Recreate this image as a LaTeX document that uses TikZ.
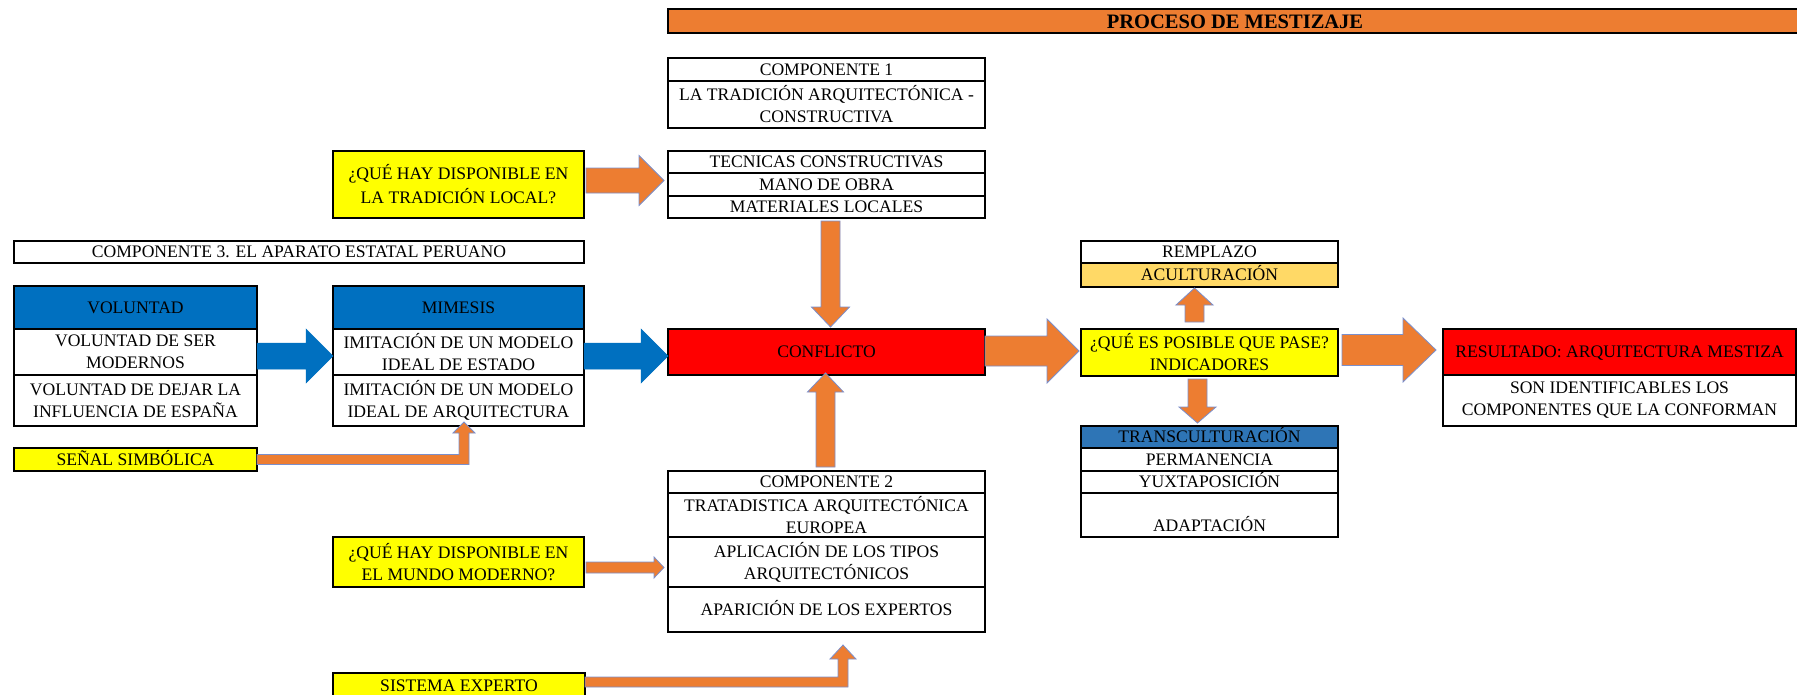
\documentclass[tikz,border=0pt]{standalone}
\usepackage{fontspec}
\setmainfont{Liberation Serif}
\usetikzlibrary{calc}
\definecolor{orangeA}{HTML}{ED7D31}
\definecolor{yellowA}{HTML}{FFFF00}
\definecolor{redA}{HTML}{FF0000}
\definecolor{blueH}{HTML}{0070C0}
\definecolor{transA}{HTML}{2E75B6}
\definecolor{acuA}{HTML}{FFD966}
\definecolor{outlineA}{HTML}{7A8FCC}
\newcommand{\cellfont}{\fontsize{17.6}{22}\selectfont}
\newcommand{\titlefont}{\fontsize{20.5}{24}\selectfont\bfseries}
\tikzset{
  cellbox/.style={draw=black, line width=1.1pt, inner sep=0pt, outer sep=0pt,
    align=center, font=\cellfont},
  oneline/.style={text height=11.6pt, text depth=0pt},
  multi/.style={},
  orangeArrow/.style={fill=orangeA, draw=outlineA, line width=0.8pt, line join=miter},
  blueArrow/.style={fill=blueH, draw=blueH, line width=0.5pt}
}
% cell: [extra style], name, x1, y1, x2, y2, fill, text
\newcommand{\cell}[8][oneline]{\node[cellbox, #1, fill=#7, minimum width={#5pt-#3pt}, minimum height={#6pt-#4pt}] (#2) at ({(#3+#5)/2},{(#4+#6)/2}) {#8};}
% horizontal block arrow: style, from, tip, bodyhalf, headhalf, headlen
\newcommand{\harrow}[6]{\path[#1] let \p1=(#2), \p2=(#3) in
  ({\x1},{\y2+#4}) -- ({\x2-#6},{\y2+#4}) -- ({\x2-#6},{\y2+#5}) -- (\x2,\y2) -- ({\x2-#6},{\y2-#5}) -- ({\x2-#6},{\y2-#4}) -- ({\x1},{\y2-#4}) -- cycle;}
% vertical block arrow: style, from, tip, bodyhalf, headhalf, signed headlen
\newcommand{\varrow}[6]{\path[#1] let \p1=(#2), \p2=(#3) in
  ({\x2-#4},{\y1}) -- ({\x2-#4},{\y2+(#6)}) -- ({\x2-#5},{\y2+(#6)}) -- (\x2,\y2) -- ({\x2+#5},{\y2+(#6)}) -- ({\x2+#4},{\y2+(#6)}) -- ({\x2+#4},{\y1}) -- cycle;}
% elbow arrow: right then up
\newcommand{\elbow}[6]{\path[#1] let \p1=(#2), \p2=(#3) in
  ({\x1},{\y1+#4}) -- ({\x2-#4},{\y1+#4}) -- ({\x2-#4},{\y2-#6}) -- ({\x2-#5},{\y2-#6}) -- (\x2,\y2) -- ({\x2+#5},{\y2-#6}) -- ({\x2+#4},{\y2-#6}) -- ({\x2+#4},{\y1-#4}) -- ({\x1},{\y1-#4}) -- cycle;}
\begin{document}
\begin{tikzpicture}[x=1pt,y=-1pt]
\useasboundingbox (0,0) rectangle (1797,694);
\fill[white] (0,0) rectangle (1797,694);
\clip (0,0) rectangle (1797,694);
% title
\node[cellbox, line width=1.5pt, fill=orangeA, minimum width=1134pt, minimum height=24pt, font=\titlefont, text height=14pt, text depth=0pt] (title) at (1235,21) {PROCESO DE MESTIZAJE};
% componente 1
\cell{c1a}{668}{58}{985}{81}{white}{COMPONENTE 1}
\cell[multi]{c1b}{668}{81}{985}{128}{white}{LA TRADICIÓN ARQUITECTÓNICA -\\CONSTRUCTIVA}
\cell{tec1}{668}{151}{985}{173}{white}{TECNICAS CONSTRUCTIVAS}
\cell{tec2}{668}{173}{985}{196}{white}{MANO DE OBRA}
\cell{tec3}{668}{196}{985}{218}{white}{MATERIALES LOCALES}
\cell[multi]{yl1}{333}{151}{584}{218}{yellowA}{¿QUÉ HAY DISPONIBLE EN\\[2pt]LA TRADICIÓN LOCAL?}
% componente 3
\cell{c3}{14}{241}{584}{263}{white}{COMPONENTE 3. EL APARATO ESTATAL PERUANO}
\cell{vol0}{14}{286}{257}{329}{blueH}{VOLUNTAD}
\cell[multi]{vol1}{14}{329}{257}{375}{white}{VOLUNTAD DE SER\\MODERNOS}
\cell[multi]{vol2}{14}{375}{257}{426}{white}{VOLUNTAD DE DEJAR LA\\INFLUENCIA DE ESPAÑA}
\cell{mim0}{333}{286}{584}{329}{blueH}{MIMESIS}
\cell[multi]{mim1}{333}{329}{584}{375}{white}{IMITACIÓN DE UN MODELO\\IDEAL DE ESTADO}
\cell[multi]{mim2}{333}{375}{584}{426}{white}{IMITACIÓN DE UN MODELO\\IDEAL DE ARQUITECTURA}
\cell{sen}{14}{448}{257}{471}{yellowA}{SEÑAL SIMBÓLICA}
% conflicto
\cell{conf}{668}{329}{985}{375}{redA}{CONFLICTO}
% componente 2
\cell{c2a}{668}{471}{985}{493}{white}{COMPONENTE 2}
\cell[multi]{c2b}{668}{493}{985}{537}{white}{TRATADISTICA ARQUITECTÓNICA\\EUROPEA}
\cell[multi]{c2c}{668}{537}{985}{587}{white}{APLICACIÓN DE LOS TIPOS\\ARQUITECTÓNICOS}
\cell{c2d}{668}{587}{985}{632}{white}{APARICIÓN DE LOS EXPERTOS}
\cell[multi]{yl2}{333}{537}{584}{587}{yellowA}{¿QUÉ HAY DISPONIBLE EN\\EL MUNDO MODERNO?}
\cell{sis}{333}{673}{585}{698}{yellowA}{SISTEMA EXPERTO}
% indicadores
\cell{rem}{1081}{241}{1338}{263}{white}{REMPLAZO}
\cell{acu}{1081}{263}{1338}{287}{acuA}{ACULTURACIÓN}
\cell[multi]{ind}{1081}{329}{1338}{376}{yellowA}{¿QUÉ ES POSIBLE QUE PASE?\\INDICADORES}
\cell{tr0}{1081}{426}{1338}{448}{transA}{TRANSCULTURACIÓN}
\cell{tr1}{1081}{448}{1338}{471}{white}{PERMANENCIA}
\cell{tr2}{1081}{471}{1338}{493}{white}{YUXTAPOSICIÓN}
\cell[multi]{tr3}{1081}{493}{1338}{537}{white}{\mbox{}\\[12pt]ADAPTACIÓN}
% resultado
\cell{res0}{1443}{329}{1796}{375}{redA}{RESULTADO: ARQUITECTURA MESTIZA}
\cell[multi]{res1}{1443}{375}{1796}{426}{white}{SON IDENTIFICABLES LOS\\COMPONENTES QUE LA CONFORMAN}
% arrows
\harrow{orangeArrow}{[xshift=2pt]yl1.east}{[xshift=-4pt,yshift=4pt]tec2.west}{12.5pt}{25pt}{25pt}
\harrow{blueArrow}{vol1.east}{[yshift=-4pt]mim1.west}{13pt}{27pt}{27pt}
\harrow{blueArrow}{mim1.east}{[yshift=-4pt]conf.west}{13pt}{27pt}{27pt}
\harrow{orangeArrow}{[xshift=2pt]yl2.east}{[xshift=-4pt,yshift=-5.5pt]c2c.west}{5.5pt}{10.5pt}{10pt}
\harrow{orangeArrow}{conf.east}{[xshift=-2pt,yshift=1.5pt]ind.west}{15pt}{32pt}{32pt}
\harrow{orangeArrow}{[xshift=4pt]ind.east}{[xshift=-7pt,yshift=2pt]res0.west}{15.5pt}{32pt}{33pt}
\varrow{orangeArrow}{[yshift=-3pt]tec3.south}{[xshift=4pt,yshift=2pt]conf.north}{9.5pt}{19pt}{20pt}
\varrow{orangeArrow}{[yshift=4pt]c2a.north}{[xshift=-1pt,yshift=2pt]conf.south}{9.5pt}{18pt}{-19pt}
\varrow{orangeArrow}{[yshift=7pt]ind.north}{[xshift=-15pt,yshift=-1pt]acu.south}{9.5pt}{18.5pt}{-17pt}
\varrow{orangeArrow}{[yshift=-3pt]ind.south}{[xshift=-12pt,yshift=3pt]tr0.north}{9.5pt}{18.5pt}{16pt}
\elbow{orangeArrow}{sen.east}{[xshift=5.5pt,yshift=4pt]mim2.south}{5pt}{11pt}{11pt}
\elbow{orangeArrow}{[yshift=3.5pt]sis.east}{[xshift=16.5pt,yshift=-13pt]c2d.south}{5pt}{13pt}{14pt}
\end{tikzpicture}
\end{document}
